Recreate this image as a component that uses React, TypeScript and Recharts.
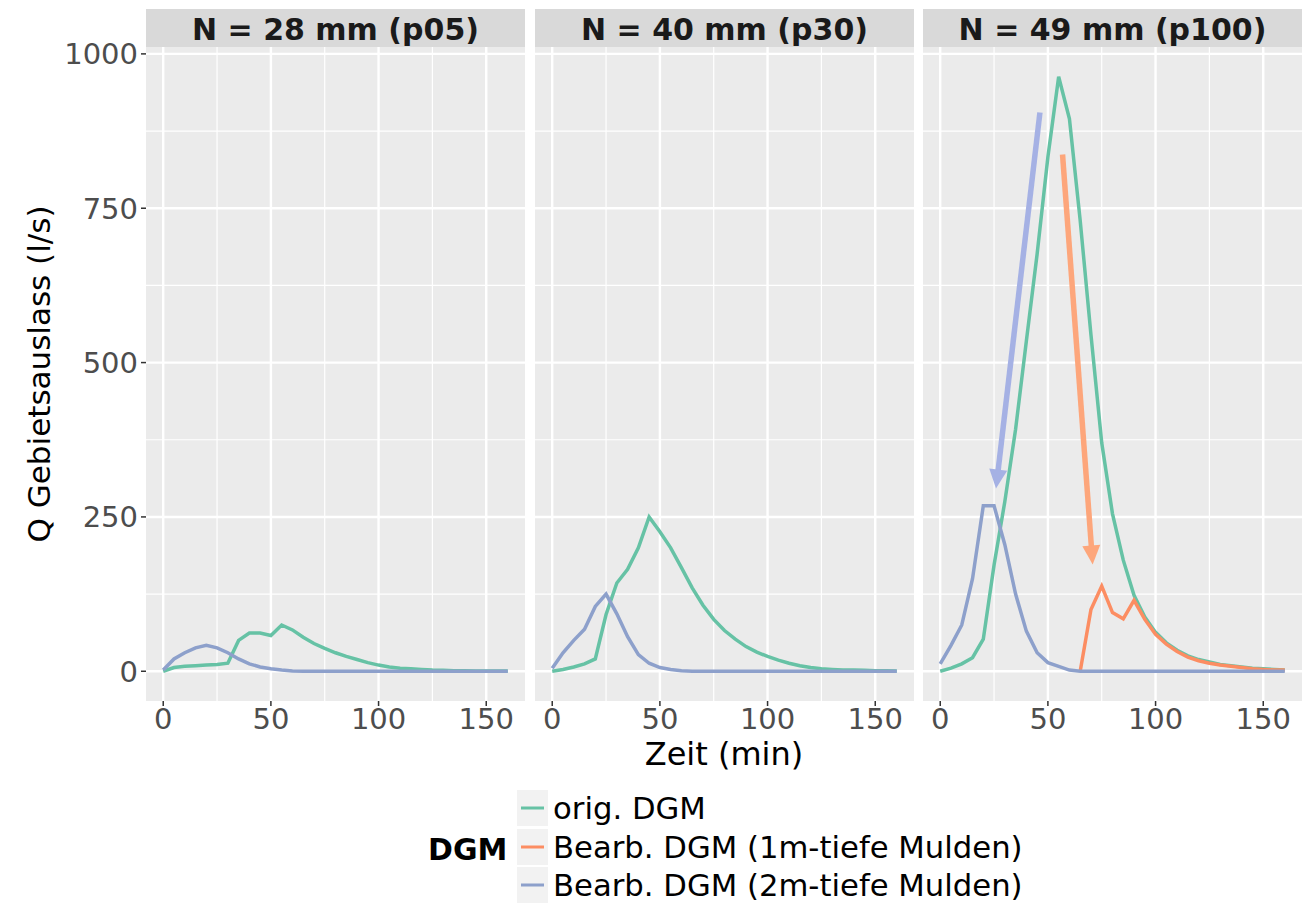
import React from 'react';
import { LineChart, Line, XAxis, YAxis, CartesianGrid, ReferenceLine } from 'recharts';

// ---- data ----
const zeit = [0, 5, 10, 15, 20, 25, 30, 35, 40, 45, 50, 55, 60, 65, 70, 75, 80, 85, 90, 95, 100, 105, 110, 115, 120, 125, 130, 135, 140, 145, 150, 155, 160];

const p05Orig = [0, 6, 8, 9, 10, 11, 13, 50, 62, 62, 58, 75, 67, 55, 45, 37, 30, 24, 19, 14, 10, 7, 5, 4, 3, 2, 1.5, 1, 1, 0.5, 0.5, 0.5, 0.5];
const p05M1: (number | null)[] = [];
const p05M2 = [2, 20, 30, 38, 42, 38, 30, 20, 12, 7, 4, 2, 0.5, 0, 0, 0, 0, 0, 0, 0, 0, 0, 0, 0, 0, 0, 0, 0, 0, 0, 0, 0, 0];

const p30Orig = [0, 3, 7, 12, 20, 92, 143, 165, 200, 250, 226, 200, 168, 135, 107, 84, 66, 52, 40, 31, 24, 18, 13, 9, 6, 4, 3, 2, 2, 1.5, 1, 1, 0.5];
const p30M1: (number | null)[] = [];
const p30M2 = [5, 30, 50, 68, 105, 125, 93, 56, 27, 13, 6, 3, 1, 0, 0, 0, 0, 0, 0, 0, 0, 0, 0, 0, 0, 0, 0, 0, 0, 0, 0, 0, 0];

const p100Orig = [0, 5, 12, 22, 52, 172, 275, 392, 535, 676, 833, 963, 895, 730, 545, 370, 255, 180, 123, 88, 63, 46, 34, 25, 19, 15, 11, 9, 7, 5, 4, 3, 2];
const p100M1 = [null, null, null, null, null, null, null, null, null, null, null, null, null, 0, 100, 138, 95, 85, 115, 84, 60, 44, 32, 23, 17, 13, 10, 8, 6, 4, 3, 2, 2];
const p100M2 = [12, 42, 75, 150, 268, 268, 205, 125, 65, 30, 14, 8, 2, 0, 0, 0, 0, 0, 0, 0, 0, 0, 0, 0, 0, 0, 0, 0, 0, 0, 0, 0, 0];

const panelTitles = ['N = 28 mm (p05)', 'N = 40 mm (p30)', 'N = 49 mm (p100)'];
const seriesNames = ['orig. DGM', 'Bearb. DGM (1m-tiefe Mulden)', 'Bearb. DGM (2m-tiefe Mulden)'];
const seriesColors = ['#66c2a5', '#fc8d62', '#8da0cb'];
const legendTitle = 'DGM';
const xTitle = 'Zeit (min)';
const yTitle = 'Q Gebietsauslass (l/s)';

const xTicks = [0, 50, 100, 150];
const xMinor = [25, 75, 125];
const yTicks = [0, 250, 500, 750, 1000];
const yMinor = [125, 375, 625, 875];

// annotation arrows (panel 3), in data units
const pfeile = [
  { x1: 46.3, y1: 905, x2: 25.9, y2: 296, color: '#a5b1e4' },
  { x1: 56.8, y1: 837, x2: 70.8, y2: 173, color: '#fda67b' },
];

// ---- build ----
const panelSeries = [
  [p05Orig, p05M1, p05M2],
  [p30Orig, p30M1, p30M2],
  [p100Orig, p100M1, p100M2],
];
const val = (arr: (number | null)[], i: number) => (i < arr.length ? arr[i] : null);
const panelRows = panelSeries.map((s) =>
  zeit.map((t, i) => ({ t, s0: val(s[0], i), s1: val(s[1], i), s2: val(s[2], i) }))
);
const xMaxData = Math.max(...zeit);
const xDomain = [-0.05 * xMaxData, xMaxData * 1.05];
const yMaxData = Math.max(...(panelSeries.flat(2).filter((v) => v != null) as number[]));
const yDomain = [-0.05 * yMaxData, yMaxData * 1.05];

// ---- layout ----
const W = 1306;
const H = 907;
const PLOT_TOP = 47;
const PLOT_BOTTOM = 701;
const PANEL_W = 379;
const panelLefts = [146, 535, 923];
const X_AXIS_H = 40;
const FONT = '"DejaVu Sans", sans-serif';

const makeArrow = (color: string) => (props: any) => {
  const { x1, y1, x2, y2 } = props;
  const dx = x2 - x1;
  const dy = y2 - y1;
  const len = Math.hypot(dx, dy) || 1;
  const ux = dx / len;
  const uy = dy / len;
  const headLen = 19;
  const headHalf = 9;
  const bx = x2 - ux * headLen;
  const by = y2 - uy * headLen;
  const px = -uy;
  const py = ux;
  return (
    <g>
      <line x1={x1} y1={y1} x2={bx + ux * 2} y2={by + uy * 2} stroke={color} strokeWidth={5.5} />
      <polygon
        points={`${x2},${y2} ${bx + px * headHalf},${by + py * headHalf} ${bx - px * headHalf},${by - py * headHalf}`}
        fill={color}
      />
    </g>
  );
};

function Panel({ idx }: { idx: number }) {
  const first = idx === 0;
  const yAxisW = first ? panelLefts[0] : 0;
  const chartLeft = first ? 0 : panelLefts[idx];
  const width = PANEL_W + yAxisW;
  const rows = panelRows[idx];
  return (
    <div style={{ position: 'absolute', left: chartLeft, top: 0 }}>
      <LineChart
        width={width}
        height={H}
        data={rows}
        margin={{ top: PLOT_TOP, right: 0, bottom: H - PLOT_BOTTOM - X_AXIS_H, left: 0 }}
      >
        <CartesianGrid
          fill="#ebebeb"
          stroke="#ffffff"
          strokeWidth={1.2}
          horizontalValues={yMinor}
          verticalValues={xMinor}
        />
        <CartesianGrid
          stroke="#ffffff"
          strokeWidth={2.4}
          horizontalValues={yTicks}
          verticalValues={xTicks}
        />
        <XAxis
          type="number"
          dataKey="t"
          domain={xDomain}
          ticks={xTicks}
          allowDataOverflow
          height={X_AXIS_H}
          axisLine={false}
          tickSize={5}
          tickMargin={2}
          tickLine={{ stroke: '#333333', strokeWidth: 1.5 }}
          tick={{ fill: '#4d4d4d', fontSize: 29, fontFamily: FONT }}
          interval={0}
        />
        <YAxis
          type="number"
          domain={yDomain}
          ticks={yTicks}
          allowDataOverflow
          hide={!first}
          width={yAxisW}
          axisLine={false}
          tickSize={5}
          tickMargin={3}
          tickLine={{ stroke: '#333333', strokeWidth: 1.5 }}
          tick={{ fill: '#4d4d4d', fontSize: 29, fontFamily: FONT }}
          interval={0}
        />
        {['s0', 's1', 's2'].map((k, i) => (
          <Line
            key={k}
            type="linear"
            dataKey={k}
            stroke={seriesColors[i]}
            strokeWidth={3.5}
            dot={false}
            activeDot={false}
            connectNulls={false}
            isAnimationActive={false}
          />
        ))}
        {idx === 2 &&
          pfeile.map((a, i) => (
            <ReferenceLine
              key={'a' + i}
              segment={[
                { x: a.x1, y: a.y1 },
                { x: a.x2, y: a.y2 },
              ]}
              ifOverflow="visible"
              shape={makeArrow(a.color)}
            />
          ))}
      </LineChart>
    </div>
  );
}

export default function App() {
  const legendRowsY = [808, 847, 885];
  return (
    <div
      style={{
        position: 'absolute',
        left: 0,
        top: 0,
        width: W,
        height: H,
        background: '#ffffff',
        fontFamily: FONT,
        overflow: 'hidden',
      }}
    >
      {[0, 1, 2].map((i) => (
        <Panel key={i} idx={i} />
      ))}
      <svg
        width={W}
        height={H}
        style={{ position: 'absolute', left: 0, top: 0, pointerEvents: 'none' }}
      >
        {panelTitles.map((t, i) => (
          <g key={t}>
            <rect x={panelLefts[i]} y={9} width={PANEL_W} height={PLOT_TOP - 9} fill="#d9d9d9" />
            <text
              x={panelLefts[i] + PANEL_W / 2}
              y={40}
              textAnchor="middle"
              fontSize={30}
              fontWeight="bold"
              fill="#1a1a1a"
              fontFamily={FONT}
            >
              {t}
            </text>
          </g>
        ))}
        <text x={724} y={765} textAnchor="middle" fontSize={32} fill="#000000" fontFamily={FONT}>
          {xTitle}
        </text>
        <text
          x={50}
          y={374}
          textAnchor="middle"
          fontSize={31}
          fill="#000000"
          fontFamily={FONT}
          transform="rotate(-90, 50, 374)"
        >
          {yTitle}
        </text>
        <text x={428} y={860} fontSize={30} fontWeight="bold" fill="#000000" fontFamily={FONT}>
          {legendTitle}
        </text>
        {seriesNames.map((n, i) => (
          <g key={n}>
            <rect x={517} y={legendRowsY[i] - 18} width={31} height={36} fill="#f2f2f2" />
            <line
              x1={521}
              x2={544}
              y1={legendRowsY[i]}
              y2={legendRowsY[i]}
              stroke={seriesColors[i]}
              strokeWidth={3}
            />
            <text x={553} y={legendRowsY[i] + 11} fontSize={30.7} fill="#000000" fontFamily={FONT}>
              {n}
            </text>
          </g>
        ))}
      </svg>
    </div>
  );
}
